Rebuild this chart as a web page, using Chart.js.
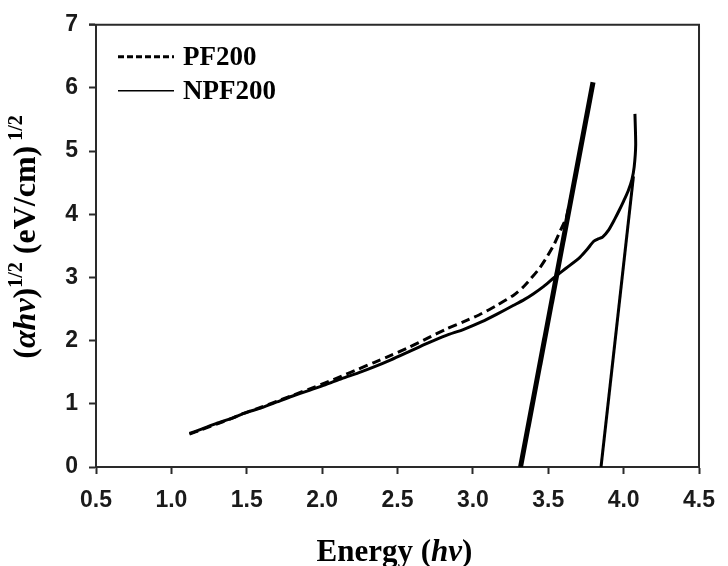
<!DOCTYPE html>
<html>
<head>
<meta charset="utf-8">
<script src="https://cdn.jsdelivr.net/npm/chart.js@4.4.1/dist/chart.umd.min.js"></script>
<style>
  html, body { margin: 0; padding: 0; background: #ffffff; }
  #wrap { width: 728px; height: 566px; }
</style>
</head>
<body>
<div id="wrap"><canvas id="c" width="728" height="566"></canvas></div>
<script>
// ---- data ----
const xTickValues = [0.5, 1.0, 1.5, 2.0, 2.5, 3.0, 3.5, 4.0, 4.5];
const xTickLabels = ['0.5', '1.0', '1.5', '2.0', '2.5', '3.0', '3.5', '4.0', '4.5'];
const yTickValues = [0, 1, 2, 3, 4, 5, 6, 7];
const yTickLabels = ['0', '1', '2', '3', '4', '5', '6', '7'];

const seriesNames = ['PF200', 'NPF200'];

const pf200X = [1.12, 1.20, 1.30, 1.40, 1.48, 1.60, 1.70, 1.80, 1.91, 2.02, 2.13, 2.24, 2.34, 2.46, 2.58, 2.70, 2.82, 2.94, 3.06, 3.16, 3.27, 3.33, 3.38, 3.44, 3.49, 3.54, 3.58, 3.62, 3.66, 3.70, 3.74, 3.77, 3.80];
const pf200Y = [0.52, 0.59, 0.68, 0.77, 0.85, 0.95, 1.04, 1.13, 1.23, 1.33, 1.44, 1.55, 1.65, 1.77, 1.90, 2.04, 2.18, 2.30, 2.43, 2.56, 2.72, 2.84, 2.97, 3.14, 3.32, 3.53, 3.74, 3.95, 4.38, 4.87, 5.36, 5.72, 6.10];

const npf200X = [1.12, 1.20, 1.30, 1.40, 1.48, 1.60, 1.70, 1.80, 1.91, 2.02, 2.13, 2.24, 2.34, 2.46, 2.58, 2.70, 2.82, 2.94, 3.06, 3.16, 3.27, 3.34, 3.40, 3.47, 3.54, 3.62, 3.71, 3.76, 3.80, 3.83, 3.86, 3.90, 3.94, 3.97, 4.00, 4.03, 4.055, 4.07, 4.08, 4.075];
const npf200Y = [0.53, 0.60, 0.69, 0.77, 0.85, 0.94, 1.03, 1.12, 1.21, 1.30, 1.40, 1.49, 1.58, 1.70, 1.83, 1.96, 2.08, 2.18, 2.30, 2.42, 2.56, 2.65, 2.74, 2.86, 3.00, 3.15, 3.32, 3.45, 3.57, 3.61, 3.64, 3.75, 3.92, 4.06, 4.21, 4.37, 4.55, 4.75, 5.10, 5.59];

// linear extrapolation (tangent) lines
const pfFitX = [3.316, 3.797];
const pfFitY = [0, 6.09];
const npfFitX = [3.85, 4.065];
const npfFitY = [0, 4.60];

// ---- helpers ----
const toPts = (xs, ys) => xs.map((x, i) => ({ x: x, y: ys[i] }));
const SERIF = "'Liberation Serif', 'Times New Roman', serif";
const SANS = "'Liberation Sans', Arial, sans-serif";
const INK = '#000000';
const AXIS = '#2a2a2a';

function drawRich(ctx, parts, size) {
  const supSize = Math.round(size * 0.62);
  const fontOf = p => (p.it ? 'italic ' : '') + 'bold ' + (p.sup ? supSize : size) + 'px ' + SERIF;
  let total = 0;
  const widths = parts.map(p => { ctx.font = fontOf(p); const w = ctx.measureText(p.t).width; total += w; return w; });
  let x = -total / 2;
  ctx.textBaseline = 'alphabetic';
  ctx.textAlign = 'left';
  parts.forEach((p, i) => {
    ctx.font = fontOf(p);
    ctx.fillText(p.t, x, p.sup ? -size * 0.42 : 0);
    x += widths[i];
  });
}

const decorPlugin = {
  id: 'decor',
  afterDraw(chart) {
    const ctx = chart.ctx;
    const a = chart.chartArea;
    ctx.save();
    // frame: top and right edges
    ctx.strokeStyle = AXIS;
    ctx.lineWidth = 2;
    ctx.beginPath();
    ctx.moveTo(a.left - 7, a.top);
    ctx.lineTo(a.right, a.top);
    ctx.lineTo(a.right, a.bottom);
    ctx.stroke();

    // legend
    const ds = chart.data.datasets;
    const legendRows = [
      { d: ds[0], y: a.top + 32 },
      { d: ds[1], y: a.top + 66 }
    ];
    legendRows.forEach(r => {
      ctx.strokeStyle = r.d.borderColor;
      ctx.lineWidth = r.d.legendWidth;
      ctx.setLineDash(r.d.legendDash || []);
      ctx.beginPath();
      ctx.moveTo(a.left + 22, r.y);
      ctx.lineTo(a.left + 78, r.y);
      ctx.stroke();
      ctx.setLineDash([]);
      ctx.fillStyle = INK;
      ctx.font = 'bold 27px ' + SERIF;
      ctx.textBaseline = 'middle';
      ctx.textAlign = 'left';
      ctx.fillText(r.d.label, a.left + 87, r.y + 1);
    });

    // x axis title
    ctx.fillStyle = INK;
    ctx.save();
    ctx.translate((a.left + a.right) / 2 - 3, 561);
    drawRich(ctx, [{ t: 'Energy (' }, { t: 'hv', it: true }, { t: ')' }], 31);
    ctx.restore();

    // y axis title
    ctx.save();
    ctx.translate(35, 237);
    ctx.rotate(-Math.PI / 2);
    drawRich(ctx, [
      { t: '(' }, { t: '\u03B1hv', it: true }, { t: ')' }, { t: '1/2', sup: true },
      { t: ' (eV/cm)' }, { t: ' 1/2', sup: true }
    ], 32);
    ctx.restore();
    ctx.restore();
  }
};

const chart = new Chart(document.getElementById('c'), {
  type: 'scatter',
  data: {
    datasets: [
      {
        label: seriesNames[0],
        data: toPts(pf200X, pf200Y),
        showLine: true,
        borderColor: INK,
        borderWidth: 3,
        legendWidth: 3,
        borderDash: [9, 5],
        legendDash: [6, 3],
        pointRadius: 0,
        tension: 0.2,
        fill: false
      },
      {
        label: seriesNames[1],
        data: toPts(npf200X, npf200Y),
        showLine: true,
        borderColor: INK,
        borderWidth: 3,
        legendWidth: 1.5,
        pointRadius: 0,
        tension: 0.2,
        fill: false
      },
      {
        label: 'PF200 fit',
        data: toPts(pfFitX, pfFitY),
        showLine: true,
        borderColor: INK,
        borderWidth: 5,
        pointRadius: 0,
        fill: false
      },
      {
        label: 'NPF200 fit',
        data: toPts(npfFitX, npfFitY),
        showLine: true,
        borderColor: INK,
        borderWidth: 3,
        pointRadius: 0,
        fill: false
      }
    ]
  },
  options: {
    responsive: false,
    animation: false,
    events: [],
    layout: { padding: { top: 23, right: 16, left: 0, bottom: 0 } },
    plugins: {
      legend: { display: false },
      tooltip: { enabled: false },
      title: { display: false }
    },
    scales: {
      x: {
        type: 'linear',
        min: 0.5,
        max: 4.5,
        afterBuildTicks: s => { s.ticks = xTickValues.map(v => ({ value: v })); },
        afterFit: s => { s.height = 99; },
        grid: { drawOnChartArea: false, drawTicks: true, tickLength: 7, tickWidth: 2, tickColor: AXIS },
        border: { display: true, width: 2, color: AXIS },
        ticks: {
          color: '#1a1a1a',
          padding: 13,
          maxRotation: 0,
          autoSkip: false,
          font: { family: SANS, size: 23, weight: 'bold' },
          callback: (v, i) => xTickLabels[i]
        }
      },
      y: {
        type: 'linear',
        min: 0,
        max: 7,
        afterBuildTicks: s => { s.ticks = yTickValues.map(v => ({ value: v })); },
        afterFit: s => { s.width = 96; },
        grid: { drawOnChartArea: false, drawTicks: true, tickLength: 7, tickWidth: 2, tickColor: AXIS },
        border: { display: true, width: 2, color: AXIS },
        ticks: {
          color: '#1a1a1a',
          padding: 11,
          autoSkip: false,
          font: { family: SANS, size: 23, weight: 'bold' },
          callback: (v, i) => yTickLabels[i]
        }
      }
    }
  },
  plugins: [decorPlugin]
});
</script>
</body>
</html>
